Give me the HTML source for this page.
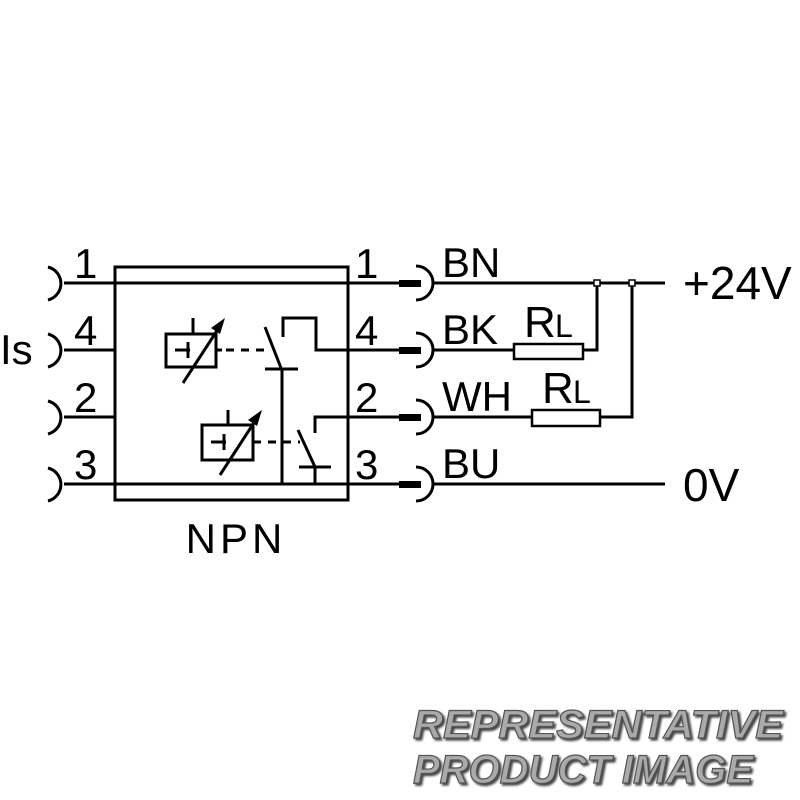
<!DOCTYPE html>
<html><head><style>body{margin:0;background:#fff}svg{display:block}</style></head><body>
<svg width="800" height="800" viewBox="0 0 800 800" xmlns="http://www.w3.org/2000/svg">
<g fill="none" stroke="#000" stroke-width="3">
<path d="M48 267 A17 17 0 0 1 48 300"/>
<path d="M48 334 A17 17 0 0 1 48 367"/>
<path d="M48 401 A17 17 0 0 1 48 434"/>
<path d="M48 468 A17 17 0 0 1 48 501"/>
<line x1="64" y1="283" x2="399" y2="283"/>
<line x1="64" y1="350" x2="115" y2="350"/>
<line x1="64" y1="417" x2="115" y2="417"/>
<line x1="64" y1="484" x2="399" y2="484"/>
<rect x="115" y="267" width="233" height="233"/>
<rect x="166" y="334" width="50" height="33"/>
<line x1="193" y1="318" x2="193" y2="334"/>
<line x1="175" y1="350" x2="190" y2="350"/>
<line x1="188" y1="342" x2="188" y2="358"/>
<line x1="216" y1="350" x2="222" y2="350"/>
<line x1="183" y1="383" x2="222" y2="323"/>
<line x1="226" y1="350" x2="268" y2="350" stroke-dasharray="8,7"/>
<line x1="265" y1="327" x2="281" y2="368"/>
<line x1="265" y1="369" x2="298" y2="369"/>
<line x1="282" y1="369" x2="282" y2="484"/>
<polyline points="283,337 283,318 316,318 316,350 399,350"/>
<rect x="202" y="425" width="51" height="35"/>
<line x1="228" y1="410" x2="228" y2="425"/>
<line x1="211" y1="442" x2="226" y2="442"/>
<line x1="224" y1="434" x2="224" y2="450"/>
<line x1="220" y1="475" x2="259" y2="415"/>
<line x1="253" y1="442" x2="300" y2="442" stroke-dasharray="8,7"/>
<line x1="298" y1="430" x2="315" y2="467"/>
<line x1="299" y1="467" x2="331" y2="467"/>
<line x1="315" y1="467" x2="315" y2="484"/>
<polyline points="315,433 315,417 399,417"/>
<path d="M416 266 A17 17 0 0 1 416 300"/>
<path d="M416 333 A17 17 0 0 1 416 367"/>
<path d="M416 400 A17 17 0 0 1 416 434"/>
<path d="M416 467 A17 17 0 0 1 416 501"/>
<line x1="432" y1="283" x2="665" y2="283"/>
<line x1="432" y1="350" x2="514" y2="350"/>
<line x1="432" y1="417" x2="532" y2="417"/>
<line x1="432" y1="484" x2="665" y2="484"/>
<rect x="514" y="344" width="69" height="15" stroke-width="2.5"/>
<polyline points="583,350 597,350 597,283"/>
<rect x="532" y="410" width="68" height="16" stroke-width="2.5"/>
<polyline points="600,417 632,417 632,283"/>
</g>
<g fill="#000">
<rect x="399" y="280" width="22" height="7"/>
<rect x="399" y="347" width="22" height="7"/>
<rect x="399" y="414" width="22" height="7"/>
<rect x="399" y="481" width="22" height="7"/>
<polygon points="225,318 211,328 220,334"/>
<polygon points="262,410 248,420 257,426"/>
</g>
<rect x="594" y="280" width="6" height="6" fill="#fff" stroke="#000" stroke-width="1.5"/>
<rect x="629" y="280" width="6" height="6" fill="#fff" stroke="#000" stroke-width="1.5"/>
<g font-family="Liberation Sans, sans-serif" font-size="42" fill="#000">
<text x="74" y="278">1</text><text x="74" y="345">4</text><text x="74" y="412">2</text><text x="74" y="479">3</text>
<text x="355" y="278">1</text><text x="355" y="345">4</text><text x="355" y="412">2</text><text x="355" y="479">3</text>
<text x="442" y="277">BN</text><text x="442" y="344">BK</text><text x="442" y="411">WH</text><text x="442" y="478">BU</text>
<text x="524" y="337" font-size="44">R</text><text x="555" y="337" font-size="32">L</text>
<text x="542" y="403" font-size="44">R</text><text x="573" y="403" font-size="32">L</text>
<text x="683" y="299" font-size="46">+24V</text><text x="683" y="501" font-size="46">0V</text>
<text x="0" y="364">Is</text>
<text x="236" y="553" text-anchor="middle" letter-spacing="4">NPN</text>
</g>
<g font-family="Liberation Sans, sans-serif" font-size="40" font-weight="bold" font-style="italic" fill="#aaa" stroke="#555" stroke-width="1.2" style="filter:drop-shadow(2px 2px 1px #444)">
<text x="413" y="738" textLength="370" lengthAdjust="spacingAndGlyphs">REPRESENTATIVE</text>
<text x="413" y="783" textLength="340" lengthAdjust="spacingAndGlyphs">PRODUCT  IMAGE</text>
</g>
</svg>
</body></html>
